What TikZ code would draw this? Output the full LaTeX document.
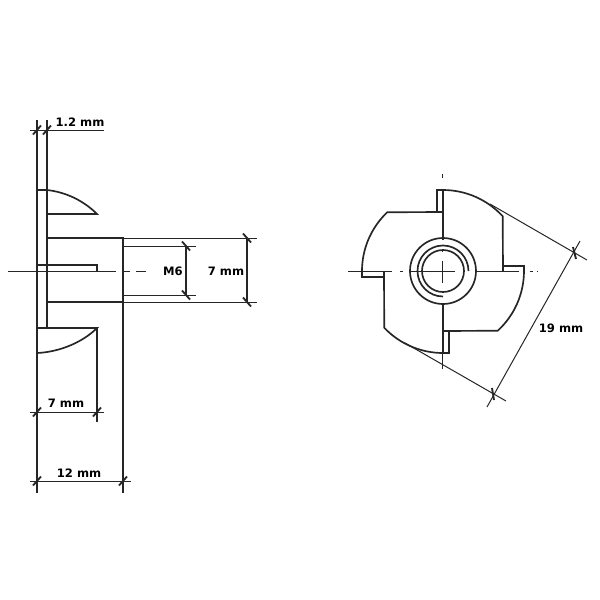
\documentclass[tikz,border=0pt]{standalone}
\usepackage{fontspec}
\setmainfont{DejaVu Sans}
\definecolor{inkdark}{HTML}{262626}
\tikzset{
  outline/.style = {draw = inkdark, line width = 0.95pt, line join = miter},
  thinline/.style = {draw = inkdark, line width = 0.57pt},
  tick/.style = {draw = inkdark, line width = 1.05pt},
  dimlabel/.style = {inner sep = 0pt, font = \fontsize{6.6}{8}\selectfont\bfseries, text = black}
}
\begin{document}
\begin{tikzpicture}[x = 0.02cm, y = -0.02cm]

  \useasboundingbox (0, 0) rectangle (600, 600);

  % Side view: extension lines
  \draw[thinline] (37, 120) -- (37, 190);
  \draw[thinline] (47, 120) -- (47, 190);
  \draw[thinline] (37, 353) -- (37, 493);
  \draw[thinline] (97, 328) -- (97, 422);
  \draw[thinline] (123, 302) -- (123, 493);
  \draw[thinline] (123, 238) -- (257, 238);
  \draw[thinline] (123, 302) -- (257, 302);
  \draw[thinline] (123, 246) -- (196, 246);
  \draw[thinline] (123, 295) -- (196, 295);

  % Side view: flange, prongs and shaft
  \draw[outline] (37, 353) -- (37, 190) -- (47, 190) -- (47, 328);
  \draw[outline] (47, 190) .. controls (65, 192) and (83, 200) .. (97, 214) -- (47, 214);
  \draw[outline] (37, 328) -- (97, 328) .. controls (83, 342) and (60, 352) .. (37, 353);
  \draw[outline] (47, 238) -- (123, 238) -- (123, 302) -- (47, 302);
  \draw[outline] (37, 265) -- (97, 265) -- (97, 271);

  % Side view: centre line
  \draw[thinline] (8, 271) -- (116, 271);
  \draw[thinline] (124, 271) -- (130, 271);
  \draw[thinline] (136, 271) -- (146, 271);

  % Side view: dimension lines
  \draw[thinline] (30, 130) -- (104, 130);
  \draw[thinline] (30, 412) -- (104, 412);
  \draw[thinline] (30, 481) -- (131, 481);
  \draw[thinline] (186, 246) -- (186, 295);
  \draw[thinline] (247, 238) -- (247, 302);

  % Side view: ticks
  \foreach \px/\py in {37/130, 47/130, 37/412, 97/412, 37/481, 123/481}
    \draw[tick] (\px - 4, \py + 4.5) -- (\px + 4, \py - 4.5);
  \foreach \px/\py in {186/246, 186/295, 247/238, 247/302}
    \draw[tick] (\px - 4, \py - 4.5) -- (\px + 4, \py + 4.5);

  % Front view: outline
  \draw[outline] (443, 190) arc[start angle = -90, end angle = -42.5, radius = 81] -- (503, 271);
  \draw[outline] (503, 271) -- (503, 266) -- (524, 266) -- (524, 271)
    arc[start angle = 0, end angle = 47.5, radius = 81] -- (443, 331);
  \draw[outline] (449, 331) -- (449, 353) -- (443, 353)
    arc[start angle = 90, end angle = 136.5, radius = 81] -- (384, 271);
  \draw[outline] (384, 277) -- (362, 277) -- (362, 271)
    arc[start angle = 180, end angle = 226.5, radius = 81] -- (443, 212);
  \draw[outline] (437, 212) -- (437, 190) -- (443, 190);
  \draw[outline] (443, 190) -- (443, 240);
  \draw[outline] (443, 304) -- (443, 353);

  % Front view: bore
  \draw[outline] (443, 271) circle[radius = 33];
  \draw[outline] (443, 271) circle[radius = 21];
  \draw[outline] (468.5, 271) arc[start angle = 0, end angle = -270, radius = 25.5];

  % Front view: centre lines
  \draw[thinline] (348, 271) -- (392, 271);
  \draw[thinline] (400, 271) -- (403, 271);
  \draw[thinline] (410, 271) -- (455, 271);
  \draw[thinline] (476, 271) -- (519, 271);
  \draw[thinline] (530, 271) -- (533, 271);
  \draw[thinline] (537, 271) -- (538, 271);
  \draw[thinline] (443, 174) -- (443, 178);
  \draw[thinline] (443, 249) -- (443, 252);
  \draw[thinline] (443, 261) -- (443, 283);
  \draw[thinline] (443, 313) -- (443, 316);
  \draw[thinline] (443, 353) -- (443, 369);

  % Front view: 19 mm dimension
  \draw[thinline] (490, 204) -- (587, 260);
  \draw[thinline] (405, 343) -- (506, 401);
  \draw[thinline] (580, 241) -- (487, 407);
  \draw[tick] (573, 247) -- (576, 259);
  \draw[tick] (492, 388) -- (494, 400);

  % Labels
  \node[dimlabel] (labelflange) at (80, 122) {1.2 mm};
  \node[dimlabel] (labelthread) at (173, 271) {M6};
  \node[dimlabel] (labelshaft) at (226, 271) {7 mm};
  \node[dimlabel] (labelprong) at (66, 403) {7 mm};
  \node[dimlabel] (labeltotal) at (79, 473) {12 mm};
  \node[dimlabel] (labelwidth) at (561, 328) {19 mm};

\end{tikzpicture}
\end{document}
